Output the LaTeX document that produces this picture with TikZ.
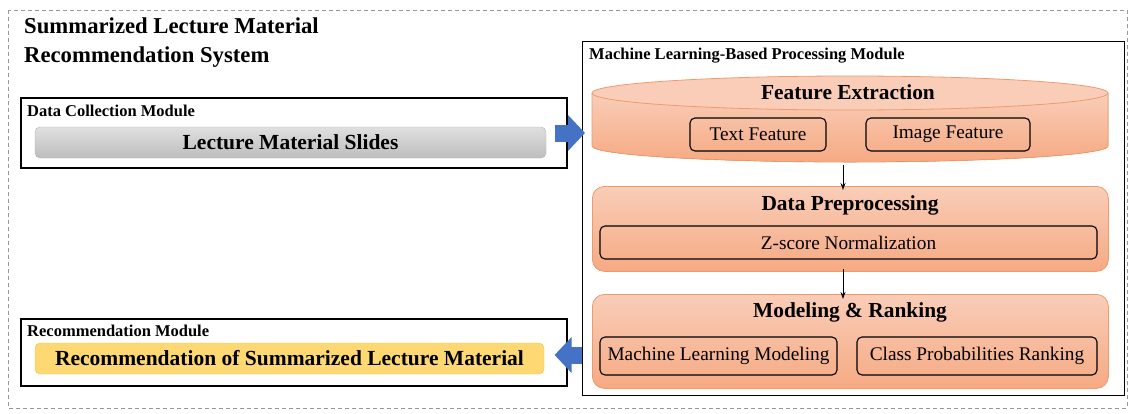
\documentclass[tikz,border=0pt]{standalone}
\usepackage{fontspec}
\setmainfont{Liberation Serif}
\usetikzlibrary{arrows.meta}
\definecolor{orbody}{HTML}{F5AC8A}
\definecolor{ortop}{HTML}{F9CDB8}
\definecolor{orline}{HTML}{EE9A6C}
\definecolor{grayfill}{HTML}{D2D2D2}
\definecolor{grayline}{HTML}{B4B4B4}
\definecolor{yelfill}{HTML}{FDD873}
\definecolor{yelline}{HTML}{F3C24A}
\definecolor{arrowblue}{HTML}{4472C4}
\tikzset{
  modbox/.style={draw=black, line width=1.6pt, fill=white},
  modlabel/.style={anchor=west, inner sep=0pt, font=\fontsize{16.5}{19}\selectfont\bfseries},
  barbig/.style={rounded corners=5pt, inner sep=0pt, font=\fontsize{21.5}{25}\selectfont\bfseries},
  graybar/.style={barbig, draw=grayline, top color=grayfill!70!white, bottom color=grayfill!90!black},
  yelbar/.style={barbig, draw=yelline, fill=yelfill},
  stagebox/.style={draw=orline, line width=0.8pt, rounded corners=12pt, top color=ortop, bottom color=orbody!95!orange},
  stagetitle/.style={inner sep=0pt, font=\fontsize{21.4}{25}\selectfont\bfseries},
  subbox/.style={draw=black, line width=1.1pt, rounded corners=5pt, inner sep=0pt, font=\fontsize{19.3}{22}\selectfont},
  smallarrow/.style={-{Stealth[length=7pt,width=5pt]}, line width=0.9pt},
  bigarrow/.style={arrowblue, line width=17pt, -{Triangle[length=17pt,width=35pt]}}
}
\begin{document}
\begin{tikzpicture}[x=1pt,y=-1pt]
\useasboundingbox (0,0) rectangle (1132,413);
% outer dashed frame
\draw[gray!80, line width=0.8pt, dash pattern=on 4pt off 3pt] (8,10) rectangle (1127,408);
\node[anchor=north west, align=left, inner sep=0pt, font=\fontsize{22.7}{29}\selectfont\bfseries] (title) at (24,18)
  {Summarized Lecture Material\\Recommendation System};

% Data collection module
\node[modbox, anchor=north west, minimum width=546pt, minimum height=70pt, inner sep=0pt] (dc) at (20,97) {};
\node[modlabel] (dclabel) at (27,111) {Data Collection Module};
\node[graybar, minimum width=511pt, minimum height=31pt] (slides) at (290.5,142.5) {Lecture Material Slides};

% Recommendation module
\node[modbox, anchor=north west, minimum width=546pt, minimum height=67pt, inner sep=0pt] (rm) at (20,318) {};
\node[modlabel] (rmlabel) at (27,331) {Recommendation Module};
\node[yelbar, minimum width=509pt, minimum height=31pt] (rec) at (289.5,358.5) {Recommendation of Summarized Lecture Material};

% ML module
\node[draw=black, line width=1.3pt, anchor=north west, minimum width=542pt, minimum height=354pt, inner sep=0pt] (ml) at (582,41) {};
\node[modlabel] (mllabel) at (589,56) {Machine Learning-Based Processing Module};

% Feature extraction cylinder
\fill[top color=ortop, bottom color=orbody!95!orange] (592,93) -- (592,146) arc[start angle=180, end angle=360, x radius=258pt, y radius=16pt] -- (1108,93) -- cycle;
\draw[orline, line width=0.8pt] (592,93) -- (592,146) arc[start angle=180, end angle=360, x radius=258pt, y radius=16pt] -- (1108,93);
\draw[orline, line width=0.8pt, fill=ortop] (850,93) ellipse[x radius=258pt, y radius=17pt];
\coordinate (feW) at (592,133);
\coordinate (feS) at (843,165);
\node[stagetitle] (fetitle) at (848,92) {Feature Extraction};
\node[subbox, minimum width=136pt, minimum height=33pt] (textf) at (758,134.5) {Text Feature};
\node[subbox, minimum width=164pt, minimum height=33pt] (imgf) at (948,134.5) {Image Feature};

% Data preprocessing
\node[stagebox, anchor=north west, minimum width=516pt, minimum height=85pt, inner sep=0pt] (dp) at (592,186) {};
\node[stagetitle] (dptitle) at (850,205) {Data Preprocessing};
\node[subbox, minimum width=497pt, minimum height=33pt] (zs) at (848.5,242.5) {Z-score Normalization};

% Modeling & ranking
\node[stagebox, anchor=north west, minimum width=516pt, minimum height=94pt, inner sep=0pt] (mr) at (592,294) {};
\node[stagetitle] (mrtitle) at (850,312) {Modeling \& Ranking};
\node[subbox, minimum width=237pt, minimum height=38pt] (mlm) at (718.5,356) {Machine Learning Modeling};
\node[subbox, minimum width=240pt, minimum height=38pt] (cpr) at (977,356) {Class Probabilities Ranking};

% small arrows
\draw[smallarrow] (feS) -- ([yshift=-4pt]feS |- dp.north);
\draw[smallarrow] ([yshift=3pt]dp.south -| feS) -- ([yshift=-5pt]feS |- mr.north);

% big blue arrows
\draw[bigarrow] ([xshift=-13pt]dc.east |- feW) -- ([xshift=-7pt]feW);
\draw[bigarrow] (ml.west |- 0,355) -- ([xshift=-13pt]rm.east |- 0,355);
\end{tikzpicture}
\end{document}
